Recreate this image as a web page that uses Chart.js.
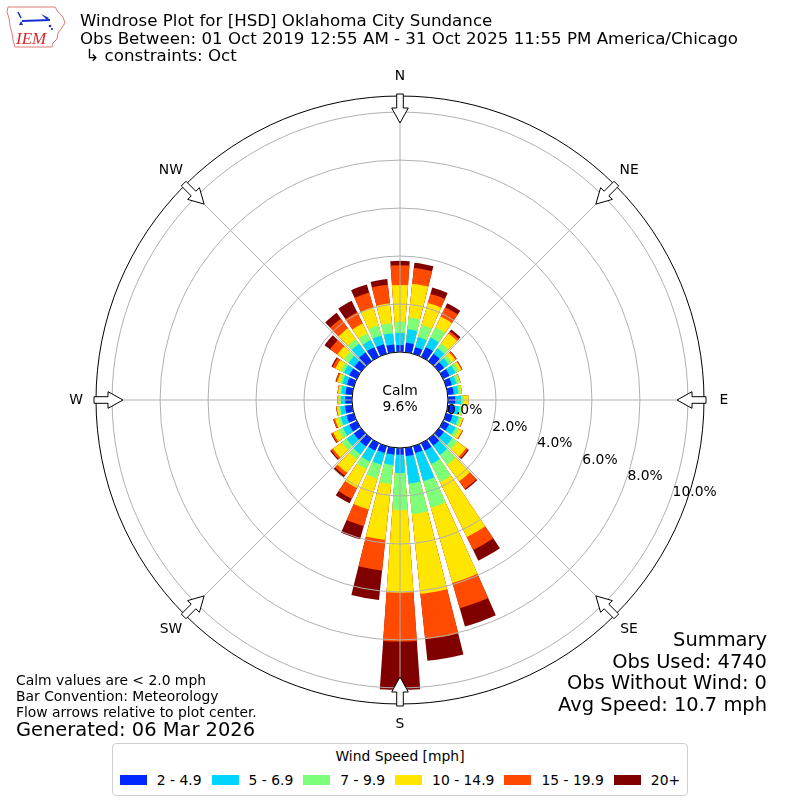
<!DOCTYPE html>
<html lang="en">

<head>
    <meta charset="UTF-8">
    <title>Windrose Plot - HSD Oklahoma City Sundance</title>
    <script src="https://cdn.jsdelivr.net/npm/chart.js"></script>
    <style>
        body {
            margin: 0;
            background: #fff;
            font-family: "DejaVu Sans", sans-serif;
        }

        #wrap {
            position: relative;
            width: 800px;
            height: 800px;
        }

        #windrose {
            position: absolute;
            left: 0;
            top: 0;
        }

        .txt {
            position: absolute;
            white-space: pre;
            color: #000;
        }

        .title {
            left: 80px;
            font-size: 16.67px;
            line-height: 17px;
        }

        .summary {
            right: 33px;
            text-align: right;
            font-size: 19.44px;
            line-height: 21.7px;
        }

        .notes {
            left: 16px;
            font-size: 13.89px;
            line-height: 16px;
        }

        #legend {
            position: absolute;
            left: 112px;
            top: 743px;
            width: 574px;
            height: 51px;
            border: 1px solid #d0d0d0;
            border-radius: 4px;
            background: #fff;
            font-size: 13.89px;
        }

        #legend .ltitle {
            text-align: center;
            margin-top: 3px;
            line-height: 18px;
        }

        #legend .items {
            display: flex;
            justify-content: center;
            margin-top: 7px;
            line-height: 16px;
            white-space: nowrap;
        }

        #legend .item {
            display: flex;
            align-items: center;
            flex-shrink: 0;
            margin: 0 5px;
        }

        #legend .sw {
            width: 27px;
            height: 10px;
            margin-right: 10px;
            flex-shrink: 0;
        }
    </style>
</head>

<body>
    <div id="wrap">
        <canvas id="windrose" width="800" height="800"></canvas>

        <!-- IEM logo, rough sketch -->
        <svg style="position:absolute;left:0;top:0" width="70" height="52">
            <path d="M8 7 L55 7 L58 12 L63 17 L65 23 L61 29 L58 33 L57 39 L53 43 L52 47 L15 47 L13 40 L12 33 L10 26 L9 18 L7 12 Z"
                fill="none" stroke="#e07a7a" stroke-width="1" />
            <path d="M18 12 L21 18" stroke="#1a2fd0" stroke-width="1.5" fill="none" />
            <path d="M22 21 L50 20" stroke="#1a2fd0" stroke-width="2" fill="none" />
            <path d="M41 14 L49 18 L47 20 Z" fill="#1a2fd0" />
            <path d="M19 25 L21 21 L23 25 Z" fill="#1a2fd0" />
            <circle cx="50" cy="26" r="1.3" fill="#1a2fd0" />
            <circle cx="52" cy="29" r="1.1" fill="#1a2fd0" />
            <text x="16" y="44" font-family="Liberation Serif, serif" font-style="italic" font-size="17"
                fill="#d42a2a">IEM</text>
        </svg>

        <div class="txt title" style="top:12px">Windrose Plot for [HSD] Oklahoma City Sundance</div>
        <div class="txt title" style="top:30px">Obs Between: 01 Oct 2019 12:55 AM - 31 Oct 2025 11:55 PM America/Chicago</div>
        <div class="txt title" style="top:47px"> ↳ constraints: Oct</div>

        <div class="txt summary" style="top:629px">Summary<br>Obs Used: 4740<br>Obs Without Wind: 0<br>Avg Speed: 10.7 mph</div>

        <div class="txt notes" style="top:672px">Calm values are &lt; 2.0 mph<br>Bar Convention: Meteorology<br>Flow arrows relative to plot center.</div>
        <div class="txt" style="left:16px;top:719px;font-size:19.44px;line-height:22px">Generated: 06 Mar 2026</div>

        <div id="legend">
            <div class="ltitle">Wind Speed [mph]</div>
            <div class="items"></div>
        </div>
    </div>

    <script>
        // direction bins (degrees, meteorological "from")
        const directions = [0, 10, 20, 30, 40, 50, 60, 70, 80, 90, 100, 110, 120, 130, 140, 150, 160, 170,
            180, 190, 200, 210, 220, 230, 240, 250, 260, 270, 280, 290, 300, 310, 320, 330, 340, 350];

        const speedLabels = ['2 - 4.9', '5 - 6.9', '7 - 9.9', '10 - 14.9', '15 - 19.9', '20+'];
        const speedColors = ['#0028ff', '#00d4ff', '#7dff7a', '#ffe600', '#ff4a00', '#800000'];

        // percent of obs per direction, one array per speed class
        const spd2to5 = [0.29, 0.40, 0.29, 0.45, 0.38, 0.27, 0.30, 0.25, 0.25, 0.30, 0.28, 0.28, 0.28, 0.26, 0.35, 0.35, 0.30, 0.35,
            0.28, 0.29, 0.29, 0.35, 0.40, 0.38, 0.35, 0.32, 0.30, 0.28, 0.28, 0.30, 0.35, 0.35, 0.45, 0.45, 0.42, 0.33];
        const spd5to7 = [0.51, 0.56, 0.44, 0.45, 0.28, 0.25, 0.28, 0.20, 0.20, 0.25, 0.22, 0.25, 0.30, 0.44, 0.48, 0.62, 1.22, 1.15,
            0.76, 0.44, 0.52, 0.50, 0.40, 0.37, 0.30, 0.25, 0.20, 0.18, 0.18, 0.20, 0.25, 0.30, 0.45, 0.33, 0.38, 0.47];
        const spd7to10 = [0.46, 0.50, 0.52, 0.47, 0.25, 0.15, 0.15, 0.12, 0.10, 0.12, 0.10, 0.12, 0.15, 0.25, 0.50, 0.83, 1.15, 1.28,
            1.54, 0.79, 0.59, 0.35, 0.25, 0.25, 0.20, 0.12, 0.08, 0.07, 0.08, 0.10, 0.15, 0.24, 0.24, 0.31, 0.44, 0.42];
        const spd10to15 = [1.53, 1.41, 0.96, 0.50, 0.52, 0.18, 0.12, 0.05, 0.05, 0.18, 0.05, 0.08, 0.15, 0.45, 0.86, 2.55, 3.26, 3.35,
            3.45, 2.34, 1.35, 0.88, 0.70, 0.45, 0.25, 0.13, 0.07, 0.05, 0.06, 0.12, 0.25, 0.34, 0.55, 0.46, 0.78, 0.83];
        const spd15to20 = [0.83, 0.66, 0.40, 0.43, 0.10, 0.06, 0.04, 0.01, 0.00, 0.00, 0.00, 0.02, 0.04, 0.10, 0.40, 0.60, 1.10, 1.90,
            2.04, 1.28, 0.72, 0.50, 0.15, 0.10, 0.07, 0.06, 0.03, 0.02, 0.02, 0.06, 0.13, 0.37, 0.50, 0.52, 0.64, 0.78];
        const spd20plus = [0.18, 0.22, 0.27, 0.19, 0.10, 0.02, 0.01, 0.00, 0.00, 0.00, 0.00, 0.00, 0.00, 0.05, 0.05, 0.50, 0.79, 0.90,
            2.01, 1.24, 0.57, 0.21, 0.08, 0.05, 0.03, 0.02, 0.00, 0.00, 0.00, 0.02, 0.05, 0.29, 0.30, 0.53, 0.35, 0.24];

        const calmPct = 9.6;
        const ringTicks = [0, 2, 4, 6, 8, 10];
        const compassLabels = ['N', 'NE', 'E', 'SE', 'S', 'SW', 'W', 'NW'];

        // radial axis: calm circle sits between -2 and 0
        const R_MIN = -2;
        const R_MAX = 10.67;
        const BAR_DEG = 8;
        const GAP_DEG = 2;
        const FONT = '13.89px "DejaVu Sans"';

        // stacked bars -> cumulative arcs, biggest drawn first
        const classes = [spd2to5, spd5to7, spd7to10, spd10to15, spd15to20, spd20plus];
        const cumulative = [];
        let running = directions.map(() => 0);
        classes.forEach(arr => {
            running = running.map((v, i) => v + arr[i]);
            cumulative.push(running.slice());
        });

        // every bin is followed by a small empty slot so bars get a gap
        const slotLabels = [];
        const slotAngles = [];
        directions.forEach(d => {
            slotLabels.push(d + '°', '');
            slotAngles.push(BAR_DEG, GAP_DEG);
        });

        const datasets = cumulative.map((vals, k) => ({
            label: speedLabels[k],
            data: vals.flatMap(v => [v, R_MIN]),
            backgroundColor: speedColors[k],
            borderWidth: 0,
            angle: slotAngles
        }));

        function toXY(scale, deg, r) {
            const a = deg * Math.PI / 180;
            return [scale.xCenter + r * Math.sin(a), scale.yCenter - r * Math.cos(a)];
        }

        // flow arrow pointing to the centre
        function drawArrow(ctx, scale, deg) {
            const a = deg * Math.PI / 180;
            const ux = Math.sin(a), uy = -Math.cos(a);
            const px = Math.cos(a), py = Math.sin(a);
            const pts = [[306, 3.3], [292, 3.3], [292, 8.3], [277, 0], [292, -8.3], [292, -3.3], [306, -3.3]];
            ctx.beginPath();
            pts.forEach(([s, p], i) => {
                const x = scale.xCenter + s * ux + p * px;
                const y = scale.yCenter + s * uy + p * py;
                if (i === 0) ctx.moveTo(x, y); else ctx.lineTo(x, y);
            });
            ctx.closePath();
            ctx.fillStyle = '#fff';
            ctx.fill();
            ctx.strokeStyle = '#000';
            ctx.lineWidth = 1;
            ctx.stroke();
        }

        const roseDecor = {
            id: 'roseDecor',
            afterDatasetsDraw(chart) {
                const ctx = chart.ctx;
                const scale = chart.scales.r;
                const rOut = scale.getDistanceFromCenterForValue(R_MAX);
                ctx.save();
                ctx.strokeStyle = '#b0b0b0';
                ctx.lineWidth = 1;
                for (let i = 0; i < 8; i++) {
                    const [x, y] = toXY(scale, i * 45, rOut);
                    ctx.beginPath();
                    ctx.moveTo(scale.xCenter, scale.yCenter);
                    ctx.lineTo(x, y);
                    ctx.stroke();
                }
                ctx.restore();
            },
            afterDraw(chart) {
                const ctx = chart.ctx;
                const scale = chart.scales.r;
                const cx = scale.xCenter, cy = scale.yCenter;
                const rOut = scale.getDistanceFromCenterForValue(R_MAX);
                const rCalm = scale.getDistanceFromCenterForValue(0);
                ctx.save();

                // frame
                ctx.beginPath();
                ctx.arc(cx, cy, rOut, 0, Math.PI * 2);
                ctx.strokeStyle = '#000';
                ctx.lineWidth = 1;
                ctx.stroke();

                // calm circle
                ctx.beginPath();
                ctx.arc(cx, cy, rCalm, 0, Math.PI * 2);
                ctx.fillStyle = '#fff';
                ctx.fill();
                ctx.stroke();

                ctx.fillStyle = '#000';
                ctx.font = FONT;
                ctx.textAlign = 'center';
                ctx.textBaseline = 'middle';
                ctx.fillText('Calm', cx, cy - 9);
                ctx.fillText(calmPct.toFixed(1) + '%', cx, cy + 7);

                // ring labels
                ctx.textAlign = 'left';
                ctx.textBaseline = 'alphabetic';
                ringTicks.forEach(v => {
                    const [x, y] = toXY(scale, 110, scale.getDistanceFromCenterForValue(v));
                    ctx.fillText(v.toFixed(1) + '%', x + 2, y - 2);
                });

                // compass labels + arrows
                ctx.textAlign = 'center';
                ctx.textBaseline = 'middle';
                compassLabels.forEach((lab, i) => {
                    const [x, y] = toXY(scale, i * 45, rOut + 20);
                    ctx.fillStyle = '#000';
                    ctx.fillText(lab, x, y);
                    drawArrow(ctx, scale, i * 45);
                });
                ctx.restore();
            }
        };

        new Chart(document.getElementById('windrose'), {
            type: 'polarArea',
            data: {
                labels: slotLabels,
                datasets: datasets
            },
            options: {
                responsive: false,
                animation: false,
                events: [],
                layout: {
                    padding: { left: 96, right: 96, top: 96, bottom: 96 }
                },
                plugins: {
                    legend: { display: false },
                    tooltip: { enabled: false }
                },
                scales: {
                    r: {
                        min: R_MIN,
                        max: R_MAX,
                        startAngle: -BAR_DEG / 2,
                        afterBuildTicks: (scale) => {
                            scale.ticks = ringTicks.map(v => ({ value: v }));
                        },
                        ticks: { display: false },
                        angleLines: { display: false },
                        pointLabels: { display: false },
                        grid: { color: '#b0b0b0', lineWidth: 1, z: 1 }
                    }
                }
            },
            plugins: [roseDecor]
        });

        // legend row
        const items = document.querySelector('#legend .items');
        speedLabels.forEach((lab, k) => {
            items.insertAdjacentHTML('beforeend',
                `<div class="item"><div class="sw" style="background:${speedColors[k]}"></div>${lab}</div>`);
        });
    </script>
</body>

</html>
